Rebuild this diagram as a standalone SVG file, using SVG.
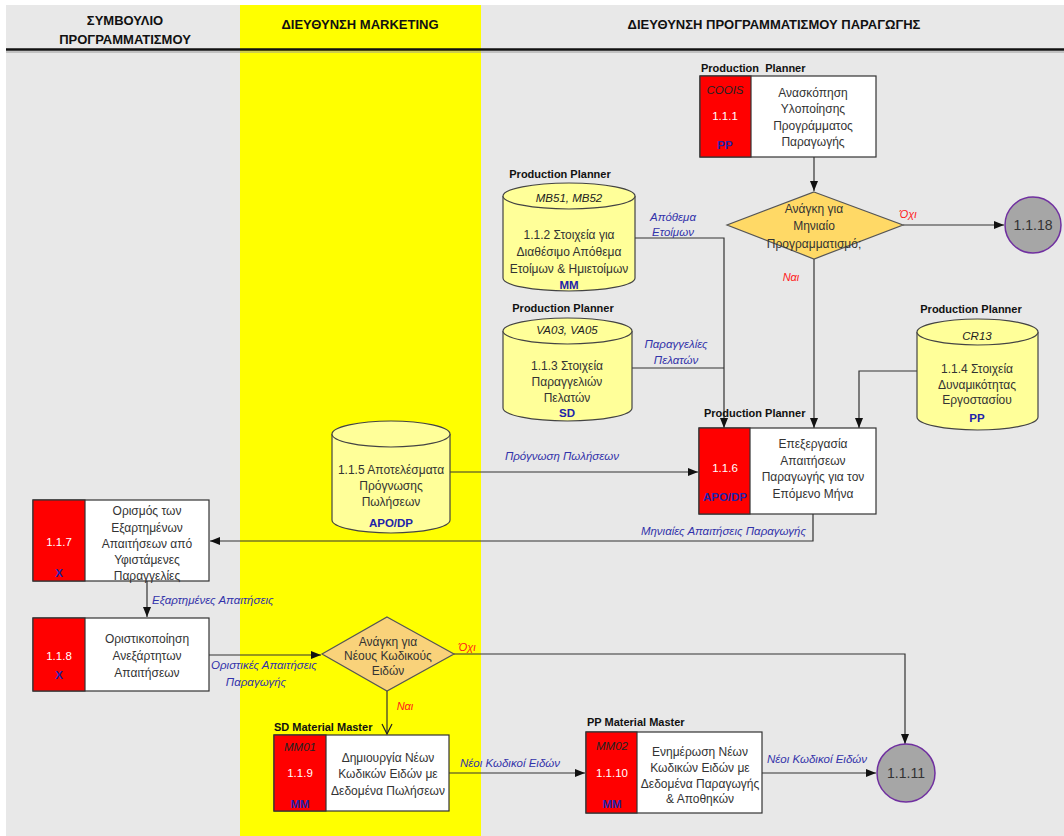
<svg xmlns="http://www.w3.org/2000/svg" width="1064" height="836" viewBox="0 0 1064 836">
  <style>
    .lane { fill: #e8e8e8; }
    .mkt { fill: #ffff00; }
    .hdr { font: bold 13px "Liberation Sans", Arial, sans-serif; fill: #111; text-anchor: middle; }
    .box { fill: #ffffff; stroke: #333333; stroke-width: 1.2; }
    .red { fill: #ff0000; stroke: #333333; stroke-width: 1.2; }
    .cyl { fill: #ffff99; stroke: #444444; stroke-width: 1.2; }
    .dia { fill: #ffd966; stroke: #555555; stroke-width: 1.2; }
    .end { fill: #a6a6a6; stroke: #7030a0; stroke-width: 1.5; }
    .tx { font: 12px "Liberation Sans", Arial, sans-serif; fill: #333333; text-anchor: middle; }
    .num { font: 11.5px "Liberation Sans", Arial, sans-serif; fill: #ffffff; text-anchor: middle; }
    .tc { font: italic 11.5px "Liberation Sans", Arial, sans-serif; fill: #222222; text-anchor: middle; }
    .mod { font: bold 11.5px "Liberation Sans", Arial, sans-serif; fill: #2222aa; text-anchor: middle; }
    .role { font: bold 11px "Liberation Sans", Arial, sans-serif; fill: #111111; }
    .lbl { font: italic 11.5px "Liberation Sans", Arial, sans-serif; fill: #3333aa; text-anchor: middle; }
    .lbl.s { text-anchor: start; }
    .lbl.e { text-anchor: end; }
    .yn { font: italic 11px "Liberation Sans", Arial, sans-serif; fill: #ff1a1a; text-anchor: middle; }
    .end-t { font: 14px "Liberation Sans", Arial, sans-serif; fill: #333333; text-anchor: middle; }
    .wire { fill: none; stroke: #333333; stroke-width: 1.2; }
  </style>
  <defs>
    <marker id="arrow" markerUnits="userSpaceOnUse" markerWidth="10" markerHeight="10" viewBox="0 0 10 10" refX="10" refY="5" orient="auto">
      <path d="M0,1 L10,5 L0,9 Z" fill="#111111"/>
    </marker>
    <marker id="open" markerUnits="userSpaceOnUse" markerWidth="12" markerHeight="12" viewBox="0 0 12 12" refX="11" refY="6" orient="auto">
      <path d="M1,1 L11,6 L1,11" fill="none" stroke="#222222" stroke-width="1.2"/>
    </marker>
  </defs>

  <!-- swimlanes -->
  <rect x="0" y="0" width="1064" height="836" fill="#ffffff"/>
  <rect class="lane" x="6" y="5" width="1058" height="831"/>
  <rect class="mkt" x="240" y="5" width="241" height="831"/>
  <line x1="6" y1="49.5" x2="1064" y2="49.5" stroke="#111111" stroke-width="2.5"/>
  <line x1="6" y1="52" x2="1064" y2="52" stroke="#9a9a9a" stroke-width="1"/>
  <rect class="mkt" x="240" y="53" width="241" height="783"/>
  <text class="hdr" x="125" y="25">ΣΥΜΒΟΥΛΙΟ</text>
  <text class="hdr" x="125" y="44">ΠΡΟΓΡΑΜΜΑΤΙΣΜΟΥ</text>
  <text class="hdr" x="360" y="29">ΔΙΕΥΘΥΝΣΗ MARKETING</text>
  <text class="hdr" x="774" y="29">ΔΙΕΥΘΥΝΣΗ ΠΡΟΓΡΑΜΜΑΤΙΣΜΟΥ ΠΑΡΑΓΩΓΗΣ</text>

  <!-- connectors -->
  <g id="connectors">
    <path class="wire" d="M814 157 V191" marker-end="url(#arrow)"/>
    <path class="wire" d="M903 225 H1004" marker-end="url(#arrow)"/>
    <path class="wire" d="M814 259 V428" marker-end="url(#arrow)"/>
    <path class="wire" d="M635 238 H724 V428" marker-end="url(#arrow)"/>
    <path class="wire" d="M632 368 H724"/>
    <path class="wire" d="M917 371 H859 V428" marker-end="url(#arrow)"/>
    <path class="wire" d="M450 472 H698" marker-end="url(#arrow)"/>
    <path class="wire" d="M813 514 V541 H210" marker-end="url(#arrow)"/>
    <path class="wire" d="M147 581 V617" marker-end="url(#arrow)"/>
    <path class="wire" d="M209 655 H321" marker-end="url(#arrow)"/>
    <path class="wire" d="M454 654 H905 V744" marker-end="url(#arrow)"/>
    <path class="wire" d="M387 691 V734" marker-end="url(#open)"/>
    <path class="wire" d="M449 773 H585" marker-end="url(#arrow)"/>
    <path class="wire" d="M762 773 H876" marker-end="url(#arrow)"/>

    <text class="lbl" x="673" y="221">Απόθεμα</text>
    <text class="lbl" x="673" y="236">Ετοίμων</text>
    <text class="lbl" x="676" y="348">Παραγγελίες</text>
    <text class="lbl" x="676" y="364">Πελατών</text>
    <text class="lbl" x="562" y="460">Πρόγνωση Πωλήσεων</text>
    <text class="lbl e" x="806" y="535">Μηνιαίες Απαιτήσεις Παραγωγής</text>
    <text class="lbl s" x="152" y="604">Εξαρτημένες Απαιτήσεις</text>
    <text class="lbl" x="264" y="669">Οριστικές Απαιτήσεις</text>
    <text class="lbl" x="256" y="686">Παραγωγής</text>
    <text class="lbl" x="510" y="767">Νέοι Κωδικοί Ειδών</text>
    <text class="lbl" x="817" y="763">Νέοι Κωδικοί Ειδών</text>
    <text class="yn" x="908" y="218">Όχι</text>
    <text class="yn" x="791" y="281">Ναι</text>
    <text class="yn" x="467" y="651">Όχι</text>
    <text class="yn" x="405" y="710">Ναι</text>
  </g>

  <!-- 1.1.1 -->
  <g id="n111">
    <text class="role" x="701" y="72" xml:space="preserve">Production  Planner</text>
    <rect class="box" x="700" y="76" width="176" height="81"/>
    <rect class="red" x="700" y="76" width="51" height="81"/>
    <text class="tc" x="725" y="94">COOIS</text>
    <text class="num" x="725" y="120">1.1.1</text>
    <text class="mod" x="725" y="149">PP</text>
    <text class="tx" x="813" y="97">Ανασκόπηση</text>
    <text class="tx" x="813" y="113">Υλοποίησης</text>
    <text class="tx" x="813" y="130">Προγράμματος</text>
    <text class="tx" x="813" y="146">Παραγωγής</text>
  </g>

  <!-- monthly planning decision -->
  <g id="d1">
    <polygon class="dia" points="814,192 903,225 814,259 727,225"/>
    <text class="tx" x="814" y="213">Ανάγκη για</text>
    <text class="tx" x="814" y="230">Μηνιαίο</text>
    <text class="tx" x="814" y="248">Προγραμματισμό;</text>
  </g>

  <!-- 1.1.18 -->
  <g id="n1118">
    <circle class="end" cx="1033" cy="225" r="28"/>
    <text class="end-t" x="1033" y="230">1.1.18</text>
  </g>

  <!-- 1.1.2 -->
  <g id="n112">
    <text class="role" x="560" y="178" text-anchor="middle">Production Planner</text>
    <path class="cyl" d="M503 196 A66 13 0 0 1 635 196 V278 A66 13 0 0 1 503 278 Z"/>
    <path class="cyl" d="M503 196 A66 13 0 0 0 635 196" fill="none"/>
    <text class="tc" x="569" y="202">MB51, MB52</text>
    <text class="tx" x="569" y="239">1.1.2 Στοιχεία για</text>
    <text class="tx" x="569" y="256">Διαθέσιμο Απόθεμα</text>
    <text class="tx" x="569" y="273">Ετοίμων &amp; Ημιετοίμων</text>
    <text class="mod" x="569" y="289">MM</text>
  </g>

  <!-- 1.1.3 -->
  <g id="n113">
    <text class="role" x="563" y="312" text-anchor="middle">Production Planner</text>
    <path class="cyl" d="M503 331 A64.5 13 0 0 1 632 331 V408 A64.5 13 0 0 1 503 408 Z"/>
    <path class="cyl" d="M503 331 A64.5 13 0 0 0 632 331" fill="none"/>
    <text class="tc" x="567" y="334">VA03, VA05</text>
    <text class="tx" x="567" y="370">1.1.3 Στοιχεία</text>
    <text class="tx" x="567" y="386">Παραγγελιών</text>
    <text class="tx" x="567" y="402">Πελατών</text>
    <text class="mod" x="567" y="417">SD</text>
  </g>

  <!-- 1.1.4 -->
  <g id="n114">
    <text class="role" x="971" y="313" text-anchor="middle">Production Planner</text>
    <path class="cyl" d="M917 332 A60.5 13 0 0 1 1038 332 V417 A60.5 13 0 0 1 917 417 Z"/>
    <path class="cyl" d="M917 332 A60.5 13 0 0 0 1038 332" fill="none"/>
    <text class="tc" x="977" y="340">CR13</text>
    <text class="tx" x="977" y="373">1.1.4 Στοιχεία</text>
    <text class="tx" x="977" y="389">Δυναμικότητας</text>
    <text class="tx" x="977" y="404">Εργοστασίου</text>
    <text class="mod" x="977" y="422">PP</text>
  </g>

  <!-- 1.1.5 -->
  <g id="n115">
    <path class="cyl" d="M332 434 A59 13 0 0 1 450 434 V520 A59 13 0 0 1 332 520 Z"/>
    <path class="cyl" d="M332 434 A59 13 0 0 0 450 434" fill="none"/>
    <text class="tx" x="391" y="474">1.1.5 Αποτελέσματα</text>
    <text class="tx" x="391" y="490">Πρόγνωσης</text>
    <text class="tx" x="391" y="506">Πωλήσεων</text>
    <text class="mod" x="391" y="527">APO/DP</text>
  </g>

  <!-- 1.1.6 -->
  <g id="n116">
    <text class="role" x="704" y="417">Production Planner</text>
    <rect class="box" x="699" y="428" width="177" height="86"/>
    <rect class="red" x="699" y="428" width="51" height="86"/>
    <text class="num" x="725" y="472">1.1.6</text>
    <text class="mod" x="725" y="501">APO/DP</text>
    <text class="tx" x="813" y="448">Επεξεργασία</text>
    <text class="tx" x="813" y="465">Απαιτήσεων</text>
    <text class="tx" x="813" y="481">Παραγωγής για τον</text>
    <text class="tx" x="813" y="498">Επόμενο Μήνα</text>
  </g>

  <!-- 1.1.7 -->
  <g id="n117">
    <rect class="box" x="33" y="500" width="176" height="81"/>
    <rect class="red" x="33" y="500" width="52" height="81"/>
    <text class="num" x="59" y="546">1.1.7</text>
    <text class="mod" x="59" y="577">X</text>
    <text class="tx" x="147" y="515">Ορισμός των</text>
    <text class="tx" x="147" y="532">Εξαρτημένων</text>
    <text class="tx" x="147" y="548">Απαιτήσεων από</text>
    <text class="tx" x="147" y="564">Υφιστάμενες</text>
    <text class="tx" x="147" y="580">Παραγγελίες</text>
  </g>

  <!-- 1.1.8 -->
  <g id="n118">
    <rect class="box" x="33" y="618" width="176" height="73"/>
    <rect class="red" x="33" y="618" width="52" height="73"/>
    <text class="num" x="59" y="660">1.1.8</text>
    <text class="mod" x="59" y="679">X</text>
    <text class="tx" x="147" y="643">Οριστικοποίηση</text>
    <text class="tx" x="147" y="660">Ανεξάρτητων</text>
    <text class="tx" x="147" y="677">Απαιτήσεων</text>
  </g>

  <!-- new material codes decision -->
  <g id="d2">
    <polygon class="dia" points="387,617 454,654 387,691 322,654" style="fill:#f9d27a"/>
    <text class="tx" x="388" y="646">Ανάγκη για</text>
    <text class="tx" x="388" y="660">Νέους Κωδικούς</text>
    <text class="tx" x="388" y="675">Ειδών</text>
  </g>

  <!-- 1.1.9 -->
  <g id="n119">
    <text class="role" x="274" y="731">SD Material Master</text>
    <rect class="box" x="274" y="735" width="175" height="76"/>
    <rect class="red" x="274" y="735" width="52" height="76"/>
    <text class="tc" x="300" y="751">MM01</text>
    <text class="num" x="300" y="777">1.1.9</text>
    <text class="mod" x="300" y="808">MM</text>
    <text class="tx" x="388" y="762">Δημιουργία Νέων</text>
    <text class="tx" x="388" y="778">Κωδικών Ειδών με</text>
    <text class="tx" x="388" y="795">Δεδομένα Πωλήσεων</text>
  </g>

  <!-- 1.1.10 -->
  <g id="n1110">
    <text class="role" x="587" y="726">PP Material Master</text>
    <rect class="box" x="586" y="732" width="176" height="81"/>
    <rect class="red" x="586" y="732" width="51" height="81"/>
    <text class="tc" x="612" y="750">MM02</text>
    <text class="num" x="612" y="777">1.1.10</text>
    <text class="mod" x="612" y="808">MM</text>
    <text class="tx" x="700" y="756">Ενημέρωση Νέων</text>
    <text class="tx" x="700" y="772">Κωδικών Ειδών με</text>
    <text class="tx" x="700" y="788">Δεδομένα Παραγωγής</text>
    <text class="tx" x="700" y="803">&amp; Αποθηκών</text>
  </g>

  <!-- 1.1.11 -->
  <g id="n1111">
    <circle class="end" cx="906" cy="773" r="29"/>
    <text class="end-t" x="906" y="778">1.1.11</text>
  </g>
</svg>
